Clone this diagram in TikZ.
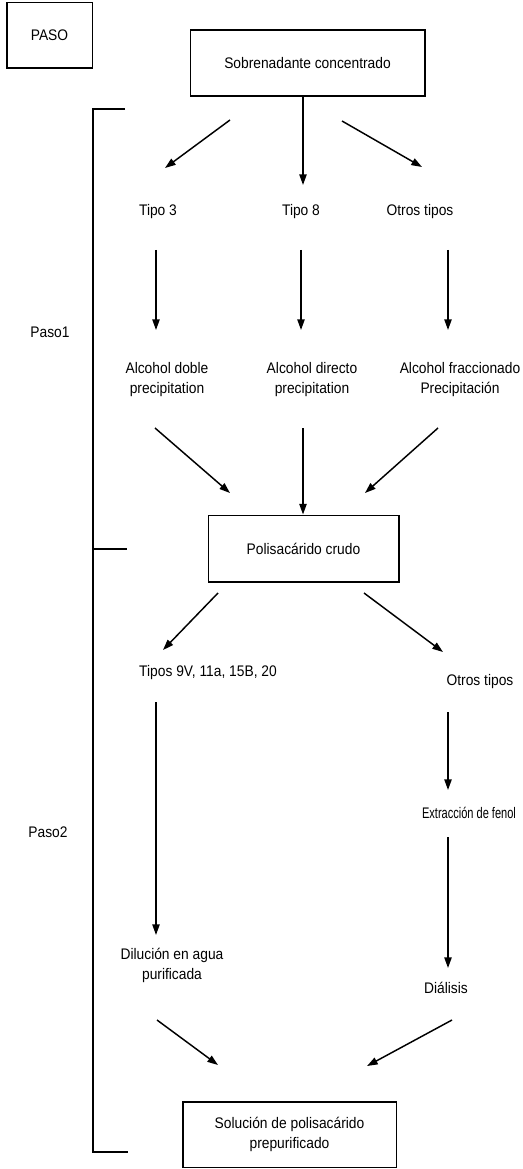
\documentclass[tikz,border=0pt]{standalone}
\usepackage{fontspec}
\setmainfont[FakeStretch=0.9]{Liberation Sans}
\usetikzlibrary{arrows.meta}
\tikzset{%
  stepbox/.style={draw, line width=1pt, rectangle, align=center, font=\fontsize{11.5}{15}\selectfont},%
  steptext/.style={align=center, font=\fontsize{11.5}{15}\selectfont},%
  arr/.style={line width=1.1pt, -{Triangle[length=8pt,width=5.5pt]}},%
}
\begin{document}
\begin{tikzpicture}[x=0.75pt, y=-0.75pt]%
\useasboundingbox (0,0) rectangle (522,1169);%
% boxes
\node[stepbox, minimum width=64pt, minimum height=49pt] (paso) at (49.5,35.5) {PASO};%
\node[stepbox, minimum width=176pt, minimum height=49.5pt] (sob) at (307.5,63) {Sobrenadante concentrado};%
\node[stepbox, minimum width=143pt, minimum height=50pt] (pol) at (303.5,548.5) {Polisacárido crudo};%
\node[stepbox, minimum width=160pt, minimum height=49pt] (sol) at (289.5,1134.5) {Solución de polisacárido\\prepurificado};%
% texts
\node[steptext] (t3) at (158,212) {Tipo 3};%
\node[steptext] (t8) at (301,212) {Tipo 8};%
\node[steptext] (otros1) at (420,212) {Otros tipos};%
\node[steptext] (alc1) at (167,380) {Alcohol doble\\precipitation};%
\node[steptext] (alc2) at (312,380) {Alcohol directo\\precipitation};%
\node[steptext] (alc3) at (460,380) {Alcohol fraccionado\\Precipitación};%
\node[steptext] (t9) at (208,673) {Tipos 9V, 11a, 15B, 20};%
\node[steptext] (otros2) at (480,682) {Otros tipos};%
\node[steptext] (fenol) at (469,813) {\scalebox{0.8}[1]{Extracción de fenol}};%
\node[steptext] (dil) at (172,965) {Dilución en agua\\purificada};%
\node[steptext] (dia) at (446,988) {Diálisis};%
\node[steptext] (paso1) at (50,332) {Paso1};%
\node[steptext] (paso2) at (48,832) {Paso2};%
% bracket
\draw[line width=1.1pt] (125,109) -- (93,109) -- (93,1152) -- (128,1152);%
\draw[line width=1.1pt] (93,549) -- (127,549);%
% arrow ends
\coordinate (a1) at (230,120); \coordinate (a2) at (165,168);%
\coordinate (b2) at (303,185);%
\coordinate (c1) at (342,121); \coordinate (c2) at (422,167);%
\coordinate (d1) at (156,250); \coordinate (d2) at (156,330);%
\coordinate (e1) at (301,250); \coordinate (e2) at (301,330);%
\coordinate (f1) at (448,250); \coordinate (f2) at (448,330);%
\coordinate (g1) at (155,428); \coordinate (g2) at (230,493);%
\coordinate (h1) at (303,428);%
\coordinate (i1) at (438,428); \coordinate (i2) at (365,493);%
\coordinate (j1) at (218,593); \coordinate (j2) at (163,650);%
\coordinate (k1) at (364,593); \coordinate (k2) at (443,652);%
\coordinate (l1) at (156,702); \coordinate (l2) at (156,935);%
\coordinate (m1) at (448,712); \coordinate (m2) at (448,790);%
\coordinate (n1) at (448,837); \coordinate (n2) at (448,968);%
\coordinate (o1) at (157,1020); \coordinate (o2) at (218,1065);%
\coordinate (p1) at (452,1020); \coordinate (p2) at (367,1066);%
% arrows
\draw[arr] (a1) -- (a2);%
\draw[arr] (sob.south) ++(-4.5,0) -- (b2);%
\draw[arr] (c1) -- (c2);%
\foreach \s/\e in {d1/d2, e1/e2, f1/f2, g1/g2, i1/i2, j1/j2, k1/k2, l1/l2, m1/m2, n1/n2, o1/o2, p1/p2}%
  \draw[arr] (\s) -- (\e);%
\draw[arr] (h1) -- (h1 |- pol.north);%
\end{tikzpicture}
\end{document}
